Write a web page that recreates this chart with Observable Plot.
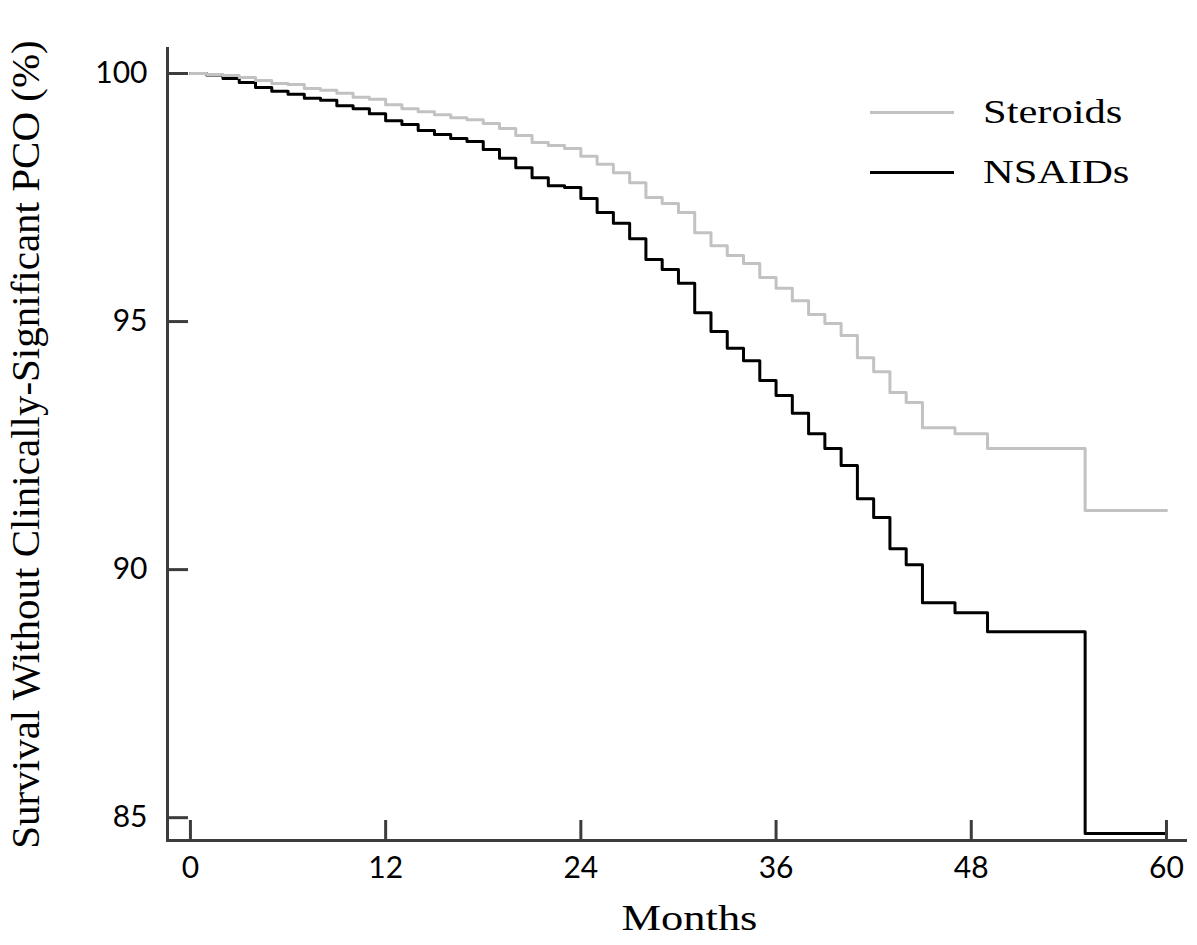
<!DOCTYPE html>
<html><head><meta charset="utf-8">
<script src="https://cdn.jsdelivr.net/npm/d3@7"></script>
<script src="https://cdn.jsdelivr.net/npm/@observablehq/plot@0.6"></script>
<style>
body{margin:0;background:#fff;}
#wrap{position:relative;width:1197px;height:945px;}
.leg{position:absolute;left:870px;font-family:"Liberation Serif","Times New Roman",serif;font-size:34px;color:#000;}
.leg .row{display:flex;align-items:center;height:60px;}
.leg .sw{width:84px;height:3px;margin-right:29px;}
.leg span{display:inline-block;transform:scaleX(1.25);transform-origin:left center;}
</style></head><body><div id="wrap"></div>
<script>
const months = [0,1,2,3,4,5,6,7,8,9,10,11,12,13,14,15,16,17,18,19,20,21,22,23,24,25,26,27,28,29,30,31,32,33,34,35,36,37,38,39,40,41,42,43,44,45,47,49,55,60];
const steroids = [100,99.98,99.96,99.92,99.86,99.80,99.78,99.70,99.66,99.60,99.52,99.48,99.37,99.29,99.23,99.17,99.11,99.07,98.99,98.89,98.75,98.61,98.55,98.49,98.33,98.17,98.00,97.80,97.50,97.38,97.20,96.79,96.53,96.33,96.17,95.89,95.67,95.42,95.14,94.96,94.72,94.27,93.99,93.57,93.37,92.86,92.74,92.44,91.19,91.19];
const nsaids = [100,99.97,99.90,99.82,99.72,99.64,99.58,99.50,99.46,99.35,99.29,99.19,99.05,98.97,98.85,98.77,98.69,98.63,98.47,98.29,98.10,97.90,97.74,97.70,97.48,97.20,96.98,96.67,96.25,96.05,95.77,95.18,94.80,94.46,94.21,93.81,93.51,93.15,92.74,92.44,92.10,91.43,91.05,90.42,90.10,89.33,89.13,88.75,84.68,84.68];
const seriesNames = ["NSAIDs","Steroids"];
const seriesColors = ["#000000","#c2c2c2"];
const xTicks = [0,12,24,36,48,60];
const yTicks = [85,90,95,100];
const xDomain = [-1.41, 61.17];
const yDomain = [84.54, 100.504];

const rows = [];
months.forEach((m,i)=>{ rows.push({m, s:nsaids[i], g:"NSAIDs"}); });
months.forEach((m,i)=>{ rows.push({m, s:steroids[i], g:"Steroids"}); });

const axisColor = "#3c3c3c";
const serif = "Liberation Serif, Times New Roman, serif";
const chart = Plot.plot({
  width:1197, height:945,
  marginLeft:167, marginRight:12, marginTop:48, marginBottom:105,
  x:{domain:xDomain},
  y:{domain:yDomain},
  color:{domain:seriesNames, range:seriesColors},
  style:{fontFamily:"Lato, sans-serif", fontSize:"30px", color:"#000", background:"#fff", overflow:"visible"},
  marks:[
    Plot.line(rows, {x:"m", y:"s", z:"g", stroke:"g", strokeWidth:3, curve:"step-after"}),
    Plot.frame({anchor:"left", stroke:axisColor, strokeWidth:3}),
    Plot.frame({anchor:"bottom", stroke:axisColor, strokeWidth:3}),
    Plot.axisX({ticks:xTicks, tickSize:-20, tickPadding:36, stroke:axisColor, strokeWidth:3, label:null, fontSize:30, fill:"#000"}),
    Plot.axisY({ticks:yTicks, tickSize:-21, tickPadding:41, stroke:axisColor, strokeWidth:3, label:null, fontSize:30, fill:"#000"}),
    Plot.axisX({ticks:[], label:"Months", labelAnchor:"center", labelArrow:"none", labelOffset:89, fontFamily:serif, fontSize:35, fill:"#000"}),
    Plot.axisY({ticks:[], label:"Survival Without Clinically-Significant PCO (%)", labelAnchor:"center", labelArrow:"none", labelOffset:158, fontFamily:serif, fontSize:41, fill:"#000"})
  ]
});
const wrap = document.getElementById("wrap");
wrap.appendChild(chart);
// widen the x-axis title and shift it slightly right, as in the reference
chart.querySelectorAll('g[aria-label="x-axis label"] text').forEach(t => {
  const b = t.getBBox();
  const cx = b.x + b.width / 2;
  const old = t.getAttribute("transform") || "";
  t.setAttribute("transform", `${old} translate(${cx + 13},0) scale(1.27,1) translate(${-cx},0)`);
});
const leg = document.createElement("div");
leg.className = "leg";
leg.style.top = "82px";
[["Steroids","#c2c2c2"],["NSAIDs","#000000"]].forEach(([name,col])=>{
  const r = document.createElement("div"); r.className="row";
  const sw = document.createElement("div"); sw.className="sw"; sw.style.background=col;
  const t = document.createElement("span"); t.textContent=name;
  r.appendChild(sw); r.appendChild(t); leg.appendChild(r);
});
wrap.appendChild(leg);
</script></body></html>
